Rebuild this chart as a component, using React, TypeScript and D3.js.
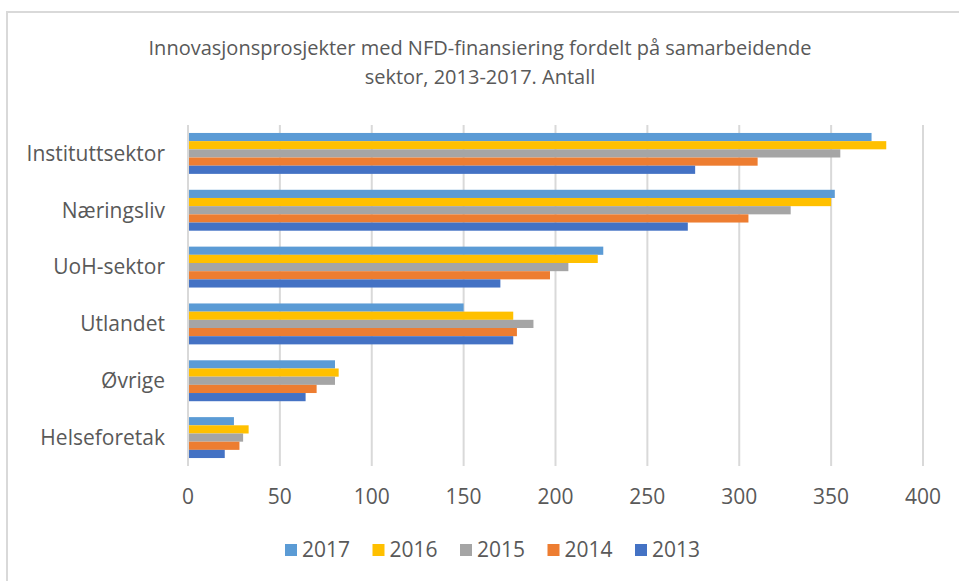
import React, { useRef, useEffect } from 'react';
import * as d3 from 'd3';

const categories = ['Instituttsektor', 'Næringsliv', 'UoH-sektor', 'Utlandet', 'Øvrige', 'Helseforetak'];
const years = ['2017', '2016', '2015', '2014', '2013'];
const colors = ['#5b9bd5', '#ffc000', '#a5a5a5', '#ed7d31', '#4472c4'];

const values2017 = [372, 352, 226, 150, 80, 25];
const values2016 = [380, 350, 223, 177, 82, 33];
const values2015 = [355, 328, 207, 188, 80, 30];
const values2014 = [310, 305, 197, 179, 70, 28];
const values2013 = [276, 272, 170, 177, 64, 20];

const xTicks = [0, 50, 100, 150, 200, 250, 300, 350, 400];

const titleLines = [
  'Innovasjonsprosjekter med NFD-finansiering fordelt på samarbeidende',
  'sektor, 2013-2017. Antall',
];

const App = () => {
  const ref = useRef<SVGSVGElement>(null);

  useEffect(() => {
    const svg = d3.select(ref.current);
    svg.selectAll('*').remove();

    const W = 959;
    const H = 581;
    const font = '"Open Sans", "Noto Sans", sans-serif';
    const textColor = '#595959';

    // chart frame (right/bottom edges fall outside the picture)
    svg.append('rect')
      .attr('x', 7).attr('y', 12)
      .attr('width', W + 20).attr('height', H + 20)
      .attr('fill', '#fff')
      .attr('stroke', '#d9d9d9')
      .attr('stroke-width', 2);

    const series = [values2017, values2016, values2015, values2014, values2013];

    const x = d3.scaleLinear().domain([0, 400]).range([188, 923]);
    const y = d3.scaleBand().domain(categories).range([125, 466]).paddingInner(0.28).paddingOuter(0.14);
    const y1 = d3.scaleBand().domain(years).range([0, y.bandwidth()]);

    // title
    svg.append('g').selectAll('text')
      .data(titleLines)
      .enter()
      .append('text')
      .attr('x', 480)
      .attr('y', (d, i) => 48 + i * 29)
      .attr('dy', '0.35em')
      .attr('text-anchor', 'middle')
      .style('font-family', font)
      .style('font-size', '20px')
      .style('fill', textColor)
      .text((d) => d);

    // vertical grid lines
    svg.append('g').selectAll('line')
      .data(xTicks)
      .enter()
      .append('line')
      .attr('x1', (d) => x(d)).attr('x2', (d) => x(d))
      .attr('y1', 125).attr('y2', 466)
      .attr('stroke', '#d9d9d9')
      .attr('stroke-width', 2);

    // bars
    const groups = svg.append('g').selectAll('g')
      .data(categories)
      .enter()
      .append('g')
      .attr('transform', (d) => `translate(0,${y(d)})`);

    groups.selectAll('rect')
      .data((c, ci) => years.map((yr, si) => ({ yr, si, v: series[si][ci] })))
      .enter()
      .append('rect')
      .attr('x', x(0) + 1)
      .attr('y', (d) => y1(d.yr))
      .attr('width', (d) => x(d.v) - x(0) - 1)
      .attr('height', y1.bandwidth())
      .attr('fill', (d) => colors[d.si]);

    // category labels
    svg.append('g').selectAll('text')
      .data(categories)
      .enter()
      .append('text')
      .attr('x', 165)
      .attr('y', (d) => y(d) + y.bandwidth() / 2)
      .attr('dy', '0.35em')
      .attr('text-anchor', 'end')
      .style('font-family', font)
      .style('font-size', '21px')
      .style('fill', textColor)
      .text((d) => d);

    // x tick labels
    svg.append('g').selectAll('text')
      .data(xTicks)
      .enter()
      .append('text')
      .attr('x', (d) => x(d))
      .attr('y', 497)
      .attr('dy', '0.35em')
      .attr('text-anchor', 'middle')
      .style('font-family', font)
      .style('font-size', '21px')
      .style('fill', textColor)
      .text((d) => d);

    // legend
    const legend = svg.append('g').selectAll('g')
      .data(years)
      .enter()
      .append('g')
      .attr('transform', (d, i) => `translate(285,550) translate(${i * 87.5},0)`);

    legend.append('rect')
      .attr('x', 0).attr('y', -6)
      .attr('width', 12).attr('height', 12)
      .attr('fill', (d, i) => colors[i]);

    legend.append('text')
      .attr('x', 17)
      .attr('y', 0)
      .attr('dy', '0.35em')
      .style('font-family', font)
      .style('font-size', '21px')
      .style('fill', textColor)
      .text((d) => d);
  }, []);

  return (
    <svg
      ref={ref}
      width={959}
      height={581}
      style={{ position: 'absolute', left: 0, top: 0, background: '#fff' }}
    />
  );
};

export default App;
